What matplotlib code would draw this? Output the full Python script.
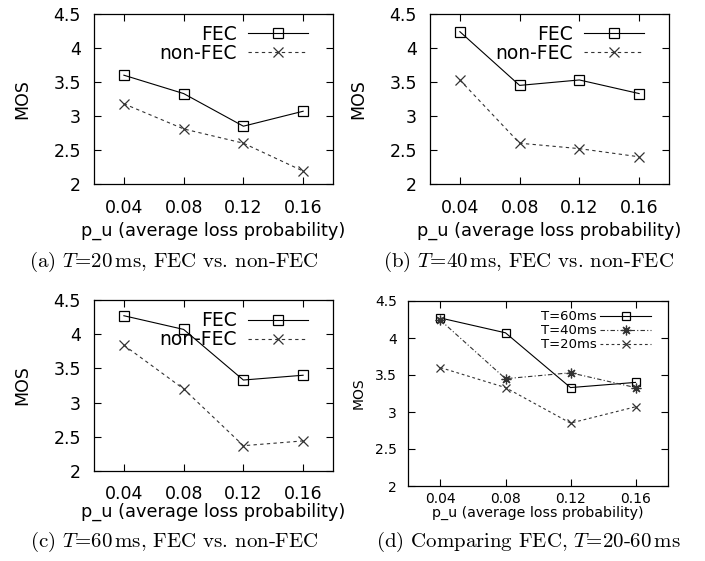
import numpy as np
from matplotlib import pyplot as plt

###################
# Plot parameters #
###################
# x-axis values
p_u = [0.04, 0.08, 0.12, 0.16]

# MOS values for each packetisation interval T
fec_20 = [3.60, 3.33, 2.85, 3.07]
nonfec_20 = [3.18, 2.81, 2.60, 2.19]
fec_40 = [4.24, 3.45, 3.53, 3.33]
nonfec_40 = [3.53, 2.60, 2.52, 2.40]
fec_60 = [4.27, 4.07, 3.33, 3.40]
nonfec_60 = [3.84, 3.20, 2.37, 2.44]

# Axis labels
x_label = 'p_u (average loss probability)'
y_label = 'MOS'
x_ticks = [0.04, 0.08, 0.12, 0.16]
x_tick_labels = ['0.04', '0.08', '0.12', '0.16']
y_ticks = [2, 2.5, 3, 3.5, 4, 4.5]
y_tick_labels = ['2', '2.5', '3', '3.5', '4', '4.5']

# Legend labels
legend_fec = 'FEC'
legend_nonfec = 'non-FEC'
legend_t = ['T=60ms', 'T=40ms', 'T=20ms']

# Sub captions
captions = [r'(a) $T$=20$\,$ms, FEC vs. non-FEC',
            r'(b) $T$=40$\,$ms, FEC vs. non-FEC',
            r'(c) $T$=60$\,$ms, FEC vs. non-FEC',
            r'(d) Comparing FEC, $T$=20-60$\,$ms']

plt.rcParams['font.family'] = ['DejaVu Sans']
plt.rcParams['mathtext.fontset'] = 'cm'

W, H = 705.0, 561.0


# Axes rectangle from pixel box
def px_axes(fig, left, top, right, bottom):
    return fig.add_axes([left / W, 1 - bottom / H, (right - left) / W, (bottom - top) / H])


# Style the axes like gnuplot
def style_axes(ax, fs, xpad, ypad, xlab_y, ylab_x):
    ax.set_xlim(0.02, 0.18)
    ax.set_ylim(2, 4.5)
    ax.set_xticks(x_ticks)
    ax.set_xticklabels(x_tick_labels)
    ax.set_yticks(y_ticks)
    ax.set_yticklabels(y_tick_labels)
    ax.tick_params(direction='in', top=True, right=True, length=5, width=0.8,
                   labelsize=fs)
    ax.tick_params(axis='x', pad=xpad)
    ax.tick_params(axis='y', pad=ypad)
    for s in ax.spines.values():
        s.set_linewidth(0.9)
    ax.set_xlabel(x_label, fontsize=fs * 1.02, va='center')
    ax.xaxis.set_label_coords(0.5, xlab_y)
    ax.set_ylabel(y_label, fontsize=fs, va='center')
    ax.yaxis.set_label_coords(ylab_x, 0.5)


# FEC vs non-FEC panel
def fec_plot(ax, fec, nonfec, xpad, xlab_y):
    ax.plot(p_u, fec, color='black', lw=0.8, marker='s', markersize=7,
            markerfacecolor='none', markeredgewidth=0.9, label=legend_fec)
    ax.plot(p_u, nonfec, color='#333333', lw=0.8, dashes=(3, 3), marker='x',
            markersize=7, markeredgewidth=0.9, label=legend_nonfec)
    style_axes(ax, 12.5, xpad, 9.5, xlab_y, -0.30)
    ax.legend(loc='upper right', bbox_to_anchor=(0.8954, 0.935), frameon=False,
              markerfirst=False, fontsize=13.5, handlelength=3.2, handletextpad=0.59,
              labelspacing=0.0, borderaxespad=0, borderpad=0)


fig = plt.figure(figsize=(W / 100, H / 100), dpi=100)

ax_a = px_axes(fig, 94, 14, 333, 184)
fec_plot(ax_a, fec_20, nonfec_20, 11, -0.2765)
ax_b = px_axes(fig, 430, 14, 669, 184)
fec_plot(ax_b, fec_40, nonfec_40, 11, -0.2765)
ax_c = px_axes(fig, 94, 300, 333, 471)
fec_plot(ax_c, fec_60, nonfec_60, 10, -0.24)

# Comparing FEC over T
ax_d = px_axes(fig, 408, 301, 668, 486)
ax_d.plot(p_u, fec_60, color='black', lw=0.8, marker='s', markersize=6,
          markerfacecolor='none', markeredgewidth=0.9, label=legend_t[0])
ax_d.plot(p_u, fec_40, color='#333333', lw=0.8, dashes=(4, 2, 1, 2), marker=(8, 2, 0),
          markersize=7, markeredgewidth=0.9, label=legend_t[1])
ax_d.plot(p_u, fec_20, color='#333333', lw=0.8, dashes=(2.5, 2.5), marker='x',
          markersize=6, markeredgewidth=0.9, label=legend_t[2])
style_axes(ax_d, 10, 4.5, 8, -0.146, -0.188)
ax_d.legend(loc='upper right', bbox_to_anchor=(0.933, 0.95), frameon=False,
            markerfirst=False, fontsize=9.5, handlelength=3.8, handletextpad=0.3,
            labelspacing=0.08, borderaxespad=0, borderpad=0)

# Sub captions
cap_pos = [(174, 262), (528, 262), (174, 542), (528, 542)]
for (cx, cy), cap in zip(cap_pos, captions):
    fig.text(cx / W, 1 - cy / H, cap, ha='center', va='center',
             fontsize=15, family='cmr10')

fig.savefig('out.png', dpi=100)
